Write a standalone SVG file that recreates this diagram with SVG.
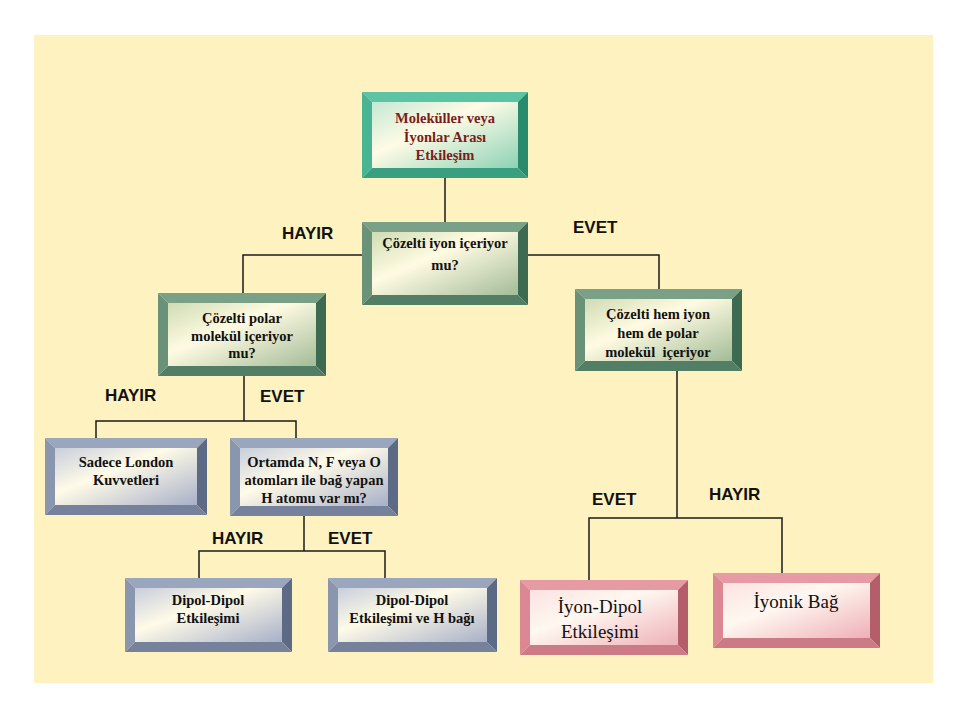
<svg xmlns="http://www.w3.org/2000/svg" width="960" height="720" viewBox="0 0 960 720">
<defs>
<linearGradient id="gTeal" x1="0" y1="0" x2="1" y2="1"><stop offset="0" stop-color="#c4e8d4"/><stop offset="0.4" stop-color="#fffbe6"/><stop offset="1" stop-color="#8cd2b6"/></linearGradient>
<linearGradient id="gGreen" x1="0" y1="0" x2="1" y2="1"><stop offset="0" stop-color="#cfdcb4"/><stop offset="0.4" stop-color="#fffbe2"/><stop offset="1" stop-color="#a3bc98"/></linearGradient>
<linearGradient id="gBlue" x1="0" y1="0" x2="1" y2="1"><stop offset="0" stop-color="#c8cedc"/><stop offset="0.4" stop-color="#fffbe8"/><stop offset="1" stop-color="#a8b0c8"/></linearGradient>
<linearGradient id="gPink" x1="0" y1="0" x2="1" y2="1"><stop offset="0" stop-color="#fbe2e2"/><stop offset="0.4" stop-color="#fff8f0"/><stop offset="1" stop-color="#eeb0b8"/></linearGradient>
</defs>
<style>
.teal .bt{fill:#5cc4a4}.teal .bl{fill:#48b494}.teal .br{fill:#2a8a6c}.teal .bb{fill:#38a080}.teal .f{fill:url(#gTeal)}
.green .bt{fill:#7aa088}.green .bl{fill:#6a9279}.green .br{fill:#3e6a52}.green .bb{fill:#527e66}.green .f{fill:url(#gGreen)}
.blue .bt{fill:#9aa6bd}.blue .bl{fill:#8a96ae}.blue .br{fill:#5d6a86}.blue .bb{fill:#76829c}.blue .f{fill:url(#gBlue)}
.pink .bt{fill:#e59aa4}.pink .bl{fill:#dc8894}.pink .br{fill:#b45e6c}.pink .bb{fill:#cc7a86}.pink .f{fill:url(#gPink)}
.t{font-family:"Liberation Serif","Times New Roman",serif;font-weight:bold;font-size:14.5px;fill:#111;text-anchor:middle}
.tr{fill:#7b1c1c}
.tp{font-family:"Liberation Serif","Times New Roman",serif;font-size:19px;fill:#111;text-anchor:middle}
.lb{font-family:"Liberation Sans",Arial,sans-serif;font-weight:bold;font-size:17px;fill:#111}
.c{fill:none;stroke:#1a1a1a;stroke-width:1.5}
</style>
<rect x="0" y="0" width="960" height="720" fill="#ffffff"/>
<rect x="34" y="35" width="899" height="648" fill="#fef2c0"/>

<g id="connectors" class="c">
<path d="M445 178V222"/>
<path d="M362 255H243V293"/>
<path d="M528 255H659V289"/>
<path d="M244 376V421M96 438V421H296V438"/>
<path d="M304 516V551M199 578V551H385V578"/>
<path d="M677 371V518M589 580V518H782V573"/>
</g>

<g id="labels">
<text class="lb" x="282" y="239">HAYIR</text>
<text class="lb" x="573" y="233">EVET</text>
<text class="lb" x="105" y="401">HAYIR</text>
<text class="lb" x="260" y="402">EVET</text>
<text class="lb" x="212" y="544">HAYIR</text>
<text class="lb" x="328" y="544">EVET</text>
<text class="lb" x="592" y="505">EVET</text>
<text class="lb" x="709" y="500">HAYIR</text>
</g>

<g id="n1" class="teal">
<polygon class="bt" points="362,92 528,92 518,102 372,102"/>
<polygon class="bl" points="362,92 372,102 372,168 362,178"/>
<polygon class="br" points="528,92 528,178 518,168 518,102"/>
<polygon class="bb" points="362,178 372,168 518,168 528,178"/>
<rect class="f" x="372" y="102" width="146" height="66"/>
<text class="t tr" x="445" y="123">Moleküller veya</text>
<text class="t tr" x="445" y="142">İyonlar Arası</text>
<text class="t tr" x="445" y="160">Etkileşim</text>
</g>

<g id="n2" class="green">
<polygon class="bt" points="362,222 528,222 518,232 372,232"/>
<polygon class="bl" points="362,222 372,232 372,295 362,305"/>
<polygon class="br" points="528,222 528,305 518,295 518,232"/>
<polygon class="bb" points="362,305 372,295 518,295 528,305"/>
<rect class="f" x="372" y="232" width="146" height="63"/>
<text class="t" x="445" y="248">Çözelti iyon içeriyor</text>
<text class="t" x="445" y="270">mu?</text>
</g>

<g id="n3" class="green">
<polygon class="bt" points="158,293 326,293 316,303 168,303"/>
<polygon class="bl" points="158,293 168,303 168,366 158,376"/>
<polygon class="br" points="326,293 326,376 316,366 316,303"/>
<polygon class="bb" points="158,376 168,366 316,366 326,376"/>
<rect class="f" x="168" y="303" width="148" height="63"/>
<text class="t" x="242" y="323">Çözelti polar</text>
<text class="t" x="242" y="341">molekül içeriyor</text>
<text class="t" x="242" y="358">mu?</text>
</g>

<g id="n4" class="green">
<polygon class="bt" points="575,289 742,289 732,299 585,299"/>
<polygon class="bl" points="575,289 585,299 585,361 575,371"/>
<polygon class="br" points="742,289 742,371 732,361 732,299"/>
<polygon class="bb" points="575,371 585,361 732,361 742,371"/>
<rect class="f" x="585" y="299" width="147" height="62"/>
<text class="t" x="658" y="319">Çözelti hem iyon</text>
<text class="t" x="658" y="338">hem de polar</text>
<text class="t" x="658" y="357" xml:space="preserve">molekül  içeriyor</text>
</g>

<g id="n5" class="blue">
<polygon class="bt" points="45,438 207,438 197,448 55,448"/>
<polygon class="bl" points="45,438 55,448 55,505 45,515"/>
<polygon class="br" points="207,438 207,515 197,505 197,448"/>
<polygon class="bb" points="45,515 55,505 197,505 207,515"/>
<rect class="f" x="55" y="448" width="142" height="57"/>
<text class="t" x="126" y="467">Sadece London</text>
<text class="t" x="126" y="485">Kuvvetleri</text>
</g>

<g id="n6" class="blue">
<polygon class="bt" points="230,438 398,438 388,448 240,448"/>
<polygon class="bl" points="230,438 240,448 240,506 230,516"/>
<polygon class="br" points="398,438 398,516 388,506 388,448"/>
<polygon class="bb" points="230,516 240,506 388,506 398,516"/>
<rect class="f" x="240" y="448" width="148" height="58"/>
<text class="t" x="314" y="467">Ortamda N, F veya O</text>
<text class="t" x="314" y="485">atomları ile bağ yapan</text>
<text class="t" x="314" y="503">H atomu var mı?</text>
</g>

<g id="n7" class="blue">
<polygon class="bt" points="125,578 292,578 282,588 135,588"/>
<polygon class="bl" points="125,578 135,588 135,642 125,652"/>
<polygon class="br" points="292,578 292,652 282,642 282,588"/>
<polygon class="bb" points="125,652 135,642 282,642 292,652"/>
<rect class="f" x="135" y="588" width="147" height="54"/>
<text class="t" x="208" y="605">Dipol-Dipol</text>
<text class="t" x="208" y="623">Etkileşimi</text>
</g>

<g id="n8" class="blue">
<polygon class="bt" points="328,578 497,578 487,588 338,588"/>
<polygon class="bl" points="328,578 338,588 338,642 328,652"/>
<polygon class="br" points="497,578 497,652 487,642 487,588"/>
<polygon class="bb" points="328,652 338,642 487,642 497,652"/>
<rect class="f" x="338" y="588" width="149" height="54"/>
<text class="t" x="412" y="605">Dipol-Dipol</text>
<text class="t" x="412" y="623">Etkileşimi ve H bağı</text>
</g>

<g id="n9" class="pink">
<polygon class="bt" points="520,580 688,580 678,590 530,590"/>
<polygon class="bl" points="520,580 530,590 530,645 520,655"/>
<polygon class="br" points="688,580 688,655 678,645 678,590"/>
<polygon class="bb" points="520,655 530,645 678,645 688,655"/>
<rect class="f" x="530" y="590" width="148" height="55"/>
<text class="tp" x="600" y="613">İyon-Dipol</text>
<text class="tp" x="600" y="638">Etkileşimi</text>
</g>

<g id="n10" class="pink">
<polygon class="bt" points="713,573 880,573 870,583 723,583"/>
<polygon class="bl" points="713,573 723,583 723,638 713,648"/>
<polygon class="br" points="880,573 880,648 870,638 870,583"/>
<polygon class="bb" points="713,648 723,638 870,638 880,648"/>
<rect class="f" x="723" y="583" width="147" height="55"/>
<text class="tp" x="796" y="608">İyonik Bağ</text>
</g>
</svg>
